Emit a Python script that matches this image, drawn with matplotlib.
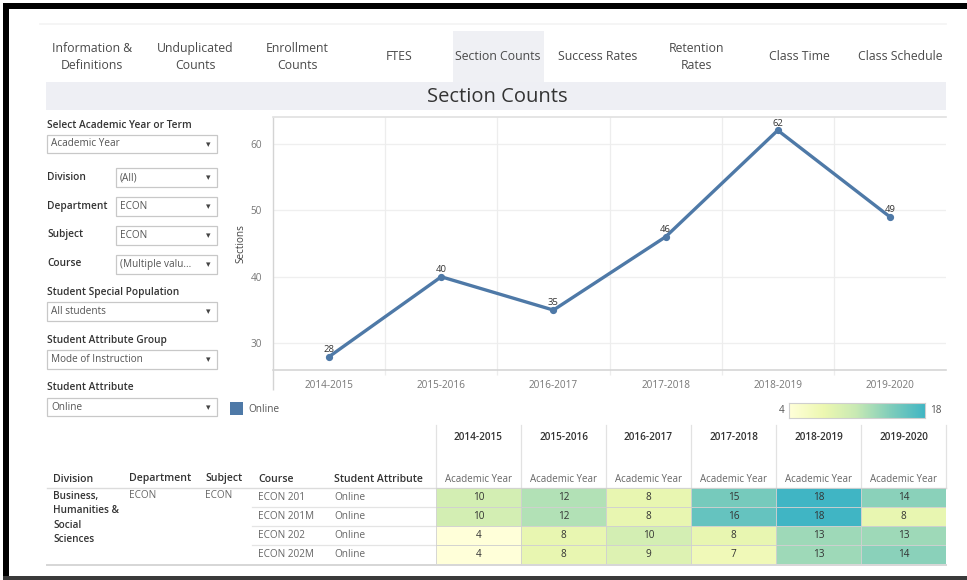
import numpy as np
import matplotlib
matplotlib.use("Agg")
import matplotlib.pyplot as plt
from matplotlib.colors import LinearSegmentedColormap, Normalize
from matplotlib.patches import Rectangle

plt.rcParams['font.family'] = ['Open Sans', 'DejaVu Sans']

# ---------------- data ----------------
years = ["2014-2015", "2015-2016", "2016-2017", "2017-2018", "2018-2019", "2019-2020"]
sections = [28, 40, 35, 46, 62, 49]
yticks = [30, 40, 50, 60]

courses = ["ECON 201", "ECON 201M", "ECON 202", "ECON 202M"]
attribute = ["Online", "Online", "Online", "Online"]
econ201 = [10, 12, 8, 15, 18, 14]
econ201m = [10, 12, 8, 16, 18, 8]
econ202 = [4, 8, 10, 8, 13, 13]
econ202m = [4, 8, 9, 7, 13, 14]
heat = np.array([econ201, econ201m, econ202, econ202m])

tabs = ["Information &\nDefinitions", "Unduplicated\nCounts", "Enrollment\nCounts", "FTES",
        "Section Counts", "Success Rates", "Retention\nRates", "Class Time", "Class Schedule"]
tab_x = [92, 195, 297, 399, 498, 598, 697, 799, 900]

W, H = 967, 580
fig = plt.figure(figsize=(W / 100, H / 100), dpi=100)
fig.patch.set_facecolor("white")

def rect(x0, y0, x1, y1):
    return [x0 / W, 1 - y1 / H, (x1 - x0) / W, (y1 - y0) / H]

bg = fig.add_axes([0, 0, 1, 1])
bg.set_xlim(0, W)
bg.set_ylim(H, 0)
bg.axis("off")
bg.set_zorder(-1)

# outer black frame
bg.add_patch(Rectangle((3, 3), W, 6, color="black", lw=0))
bg.add_patch(Rectangle((3, 3), 6, H, color="black", lw=0))
bg.add_patch(Rectangle((3, 576), W, 4, color="#3a3a3a", lw=0))

# tabs
bg.plot([40, 946], [24, 24], color="#f3f3f3", lw=1.2)
bg.add_patch(Rectangle((453, 31), 91, 52, color="#eff0f4", lw=0))
bg.add_patch(Rectangle((46, 82), 900, 28, color="#eeeff4", lw=0))
for t, x in zip(tabs, tab_x):
    bg.text(x, 57, t, ha="center", va="center", fontsize=8.8, color="#4a4a4a",
            linespacing=1.45)
bg.text(497, 97, "Section Counts", ha="center", va="center", fontsize=14.5,
        color="#333333")

# filters
lab_c = "#333333"
box_c = "#c8c8c8"
def dropdown(x0, y0, x1, y1, text):
    bg.add_patch(Rectangle((x0, y0), x1 - x0, y1 - y0, fc="white", ec=box_c, lw=0.9))
    bg.text(x0 + 4, (y0 + y1) / 2, text, ha="left", va="center", fontsize=7.2,
            color="#555555")
    bg.text(x1 - 9, (y0 + y1) / 2 + 0.5, "▾", ha="center", va="center",
            fontsize=6.5, color="#444444", family="DejaVu Sans")

bg.text(47, 126, "Select Academic Year or Term", fontsize=7.3, color=lab_c,
        va="center", fontweight="semibold")
dropdown(47, 135, 217, 153, "Academic Year")
for lab, txt, yc in [("Division", "(All)", 177), ("Department", "ECON", 206),
                     ("Subject", "ECON", 235), ("Course", "(Multiple valu...", 264)]:
    bg.text(47, yc, lab, fontsize=7.3, color=lab_c, va="center", fontweight="semibold")
    dropdown(116, yc - 9, 217, yc + 10, txt)
bg.text(47, 292, "Student Special Population", fontsize=7.3, color=lab_c,
        va="center", fontweight="semibold")
dropdown(47, 302, 217, 321, "All students")
bg.text(47, 340, "Student Attribute Group", fontsize=7.3, color=lab_c,
        va="center", fontweight="semibold")
dropdown(47, 350, 217, 369, "Mode of Instruction")
bg.text(47, 388, "Student Attribute", fontsize=7.3, color=lab_c,
        va="center", fontweight="semibold")
dropdown(47, 398, 217, 416, "Online")

# legend "Online"
bg.add_patch(Rectangle((230, 402), 13, 13, color="#4e79a7", lw=0))
bg.text(248, 409, "Online", fontsize=7.2, color="#555555", va="center")

# ---------------- line chart ----------------
ax = fig.add_axes(rect(273, 117, 946, 370))
xs = np.arange(len(years))
ax.plot(xs, sections, color="#4e79a7", lw=2.4, marker="o", ms=4.2, zorder=3)
for x, v in zip(xs, sections):
    ax.annotate(str(v), (x, v), xytext=(0, 2), textcoords="offset points",
                ha="center", va="bottom", fontsize=6.8, color="#333333")
ax.set_xlim(-0.5, len(years) - 0.5)
ax.set_ylim(26, 64)
ax.set_yticks(yticks)
ax.set_xticks(xs)
ax.set_xticklabels(years)
ax.tick_params(axis="both", length=0, labelsize=7.2, labelcolor="#777777")
ax.tick_params(axis="x", pad=7)
ax.tick_params(axis="y", pad=8)
ax.set_ylabel("Sections", fontsize=7.2, color="#444444", labelpad=3)
for y in yticks:
    ax.axhline(y, color="#efefef", lw=0.9, zorder=0)
ax.vlines(xs[:-1] + 0.5, -0.02, 1, transform=ax.get_xaxis_transform(),
          color="#ededed", lw=0.9, clip_on=False, zorder=0)
ax.vlines([-0.5], -0.08, 1, transform=ax.get_xaxis_transform(),
          color="#d4d4d4", lw=1, clip_on=False, zorder=0)
for s in ["right", "left"]:
    ax.spines[s].set_visible(False)
ax.spines["top"].set_color("#e0e0e0")
ax.spines["bottom"].set_color("#d6d6d6")
ax.spines["top"].set_linewidth(1.2)
ax.spines["bottom"].set_linewidth(1.2)

# ---------------- colour legend ----------------
cmap = LinearSegmentedColormap.from_list(
    "ylgnbu_half", plt.get_cmap("YlGnBu")(np.linspace(0, 0.5, 64)))
vmin, vmax = 4, 18
cax = fig.add_axes(rect(789, 403, 925, 418))
cax.imshow(np.linspace(vmin, vmax, 200)[None, :], aspect="auto", cmap=cmap,
           vmin=vmin, vmax=vmax, extent=[vmin, vmax, 0, 1])
cax.set_xticks([])
cax.set_yticks([])
for s in cax.spines.values():
    s.set_color("#cfcfcf")
bg.text(785, 410.5, str(vmin), ha="right", va="center", fontsize=7.2, color="#555555")
bg.text(930, 410.5, str(vmax), ha="left", va="center", fontsize=7.2, color="#555555")

# ---------------- table ----------------
hx = fig.add_axes(rect(436, 488, 946, 564))
norm = Normalize(vmin, vmax)
hx.pcolormesh(np.arange(len(years) + 1), np.arange(len(courses) + 1), heat,
              cmap=cmap, norm=norm, edgecolors="#d0d0d0", linewidth=0.6,
              antialiased=True)
for r in range(heat.shape[0]):
    for c in range(heat.shape[1]):
        hx.text(c + 0.5, r + 0.52, str(heat[r, c]), ha="center", va="center",
                fontsize=7.2, color="#333333")
hx.set_xlim(0, len(years))
hx.set_ylim(len(courses), 0)
hx.axis("off")

col_w = (946 - 436) / len(years)
for i, yr in enumerate(years):
    cx = 436 + col_w * (i + 0.5)
    bg.text(cx, 438, yr, ha="center", va="center", fontsize=7.2, color="#333333",
            fontweight="semibold")
    bg.text(cx, 479, "Academic Year", ha="center", va="center", fontsize=7,
            color="#666666")
for i in range(len(years) + 1):
    bg.plot([436 + col_w * i] * 2, [425, 488], color="#e2e2e2", lw=0.9)

for lab, x in [("Division", 53), ("Department", 129), ("Subject", 205),
               ("Course", 258), ("Student Attribute", 334)]:
    bg.text(x, 479, lab, ha="left", va="center", fontsize=7.6, color="#333333",
            fontweight="semibold")
bg.plot([47, 946], [488, 488], color="#dcdcdc", lw=1)
bg.plot([47, 946], [564.5, 564.5], color="#d6d6d6", lw=1.4)
row_h = (564 - 488) / len(courses)
for r in range(1, len(courses)):
    bg.plot([252, 436], [488 + row_h * r] * 2, color="#e4e4e4", lw=0.9)
for k, line in enumerate(["Business,", "Humanities &", "Social", "Sciences"]):
    bg.text(53, 496 + 14.6 * k, line, ha="left", va="center", fontsize=7.2,
            color="#333333", fontweight="semibold")
bg.text(129, 496, "ECON", ha="left", va="center", fontsize=7.2, color="#666666")
bg.text(205, 496, "ECON", ha="left", va="center", fontsize=7.2, color="#666666")
for r, (cname, att) in enumerate(zip(courses, attribute)):
    yc = 488 + row_h * (r + 0.5)
    bg.text(258, yc, cname, ha="left", va="center", fontsize=7.2, color="#666666")
    bg.text(334, yc, att, ha="left", va="center", fontsize=7.2, color="#666666")

fig.savefig("out.png", dpi=100, facecolor="white")
